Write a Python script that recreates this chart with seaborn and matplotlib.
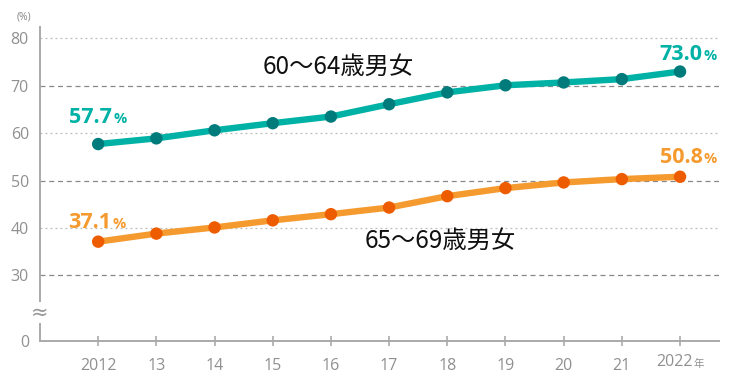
import matplotlib
matplotlib.use("Agg")
import matplotlib.pyplot as plt
import seaborn as sns
import pandas as pd

years = [2012, 2013, 2014, 2015, 2016, 2017, 2018, 2019, 2020, 2021, 2022]
xticklabels = ["2012", "13", "14", "15", "16", "17", "18", "19", "20", "21", ""]
last_label = "2022"
rate_60_64 = [57.7, 58.9, 60.6, 62.1, 63.5, 66.1, 68.6, 70.1, 70.7, 71.4, 73.0]
rate_65_69 = [37.1, 38.8, 40.1, 41.6, 42.9, 44.3, 46.7, 48.4, 49.6, 50.3, 50.8]
series_names = ["60～64歳男女", "65～69歳男女"]
yticks = [30, 40, 50, 60, 70, 80]

line_colors = {series_names[0]: "#00B2A5", series_names[1]: "#F59A2E"}
marker_colors = {series_names[0]: "#007B7B", series_names[1]: "#EE5C00"}

df = pd.DataFrame({
    "year": years * 2,
    "rate": rate_60_64 + rate_65_69,
    "series": [series_names[0]] * len(years) + [series_names[1]] * len(years),
})

sns.set_theme(style="white")
plt.rcParams["font.family"] = ["Open Sans", "Noto Sans CJK JP", "DejaVu Sans"]

fig = plt.figure(figsize=(7.38, 3.80), dpi=100)
ax = fig.add_axes([40 / 738, 1 - 340.7 / 380, (719 - 40) / 738, (340.7 - 27) / 380])

ymin, ymax = 16.2, 82.4
ax.set_xlim(2011.0, 2022.67)
ax.set_ylim(ymin, ymax)

# grid lines
for v in yticks:
    if v in (40, 60, 80):
        ax.axhline(v, color="#BBBBBB", lw=0.9, ls=(0, (1.5, 2.5)), zorder=0)
    else:
        ax.axhline(v, color="#888888", lw=0.9, ls=(0, (4, 3)), zorder=0)

sns.lineplot(data=df, x="year", y="rate", hue="series", palette=line_colors,
             linewidth=4.6, legend=False, ax=ax, zorder=2)
sns.scatterplot(data=df, x="year", y="rate", hue="series", palette=marker_colors,
                s=80, linewidth=0, legend=False, ax=ax, zorder=3)

for sp in ["top", "right"]:
    ax.spines[sp].set_visible(False)
for sp in ["left", "bottom"]:
    ax.spines[sp].set_color("#AAAAAA")
    ax.spines[sp].set_linewidth(1.4)

ax.set_xticks(years)
ax.set_xticklabels(xticklabels)
ax.set_yticks([ymin] + yticks)
ax.set_yticklabels(["0"] + [str(v) for v in yticks])
ax.tick_params(axis="x", direction="inout", length=7, width=1.2, color="#AAAAAA",
               labelsize=11.5, labelcolor="#909090", pad=9, bottom=True)
ax.tick_params(axis="y", length=0, labelsize=11.5, labelcolor="#909090", pad=8)
ax.set_xlabel("")
ax.set_ylabel("")

# last x label "2022年"
xt = ax.get_xaxis_transform()
lab_y = (340.7 - 362) / (340.7 - 27)
ax.text(years[-1] + 0.22, lab_y, last_label, transform=xt, ha="right", va="center",
        fontsize=11.5, color="#909090", clip_on=False)
ax.text(years[-1] + 0.24, lab_y - 0.005, "年", transform=xt, ha="left", va="center",
        fontsize=7.5, color="#909090", family=["Noto Sans CJK JP"], clip_on=False)

# axis break mark
ax.text(0, 22.2, "≈", transform=ax.get_yaxis_transform(), ha="center", va="center",
        fontsize=15, color="#999999", family="DejaVu Sans",
        bbox=dict(boxstyle="square,pad=0.02", fc="white", ec="none"), zorder=5)

fig.text(24 / 738, 1 - 17 / 380, "(%)", ha="center", va="center", fontsize=7.5, color="#888888")

# value labels
vlabels = [
    (2012.24, 62.1, "57.7", line_colors[series_names[0]]),
    (2012.22, 40.0, "37.1", line_colors[series_names[1]]),
    (2022.39, 75.36, "73.0", line_colors[series_names[0]]),
    (2022.39, 53.7, "50.8", line_colors[series_names[1]]),
]
for x, y, t, c in vlabels:
    ax.text(x, y, t, ha="right", va="baseline", fontsize=15.5, fontweight="bold", color=c,
            clip_on=False)
    ax.text(x + 0.02, y, "%", ha="left", va="baseline", fontsize=10.5, fontweight="bold",
            color=c, clip_on=False)

ax.text(2016.12, 73.9, series_names[0], ha="center", va="center", fontsize=17.5,
        color="#111111", family=["Noto Sans CJK JP", "DejaVu Sans"])
ax.text(2017.88, 37.2, series_names[1], ha="center", va="center", fontsize=17.5,
        color="#111111", family=["Noto Sans CJK JP", "DejaVu Sans"])

fig.savefig("out.png", dpi=100)
